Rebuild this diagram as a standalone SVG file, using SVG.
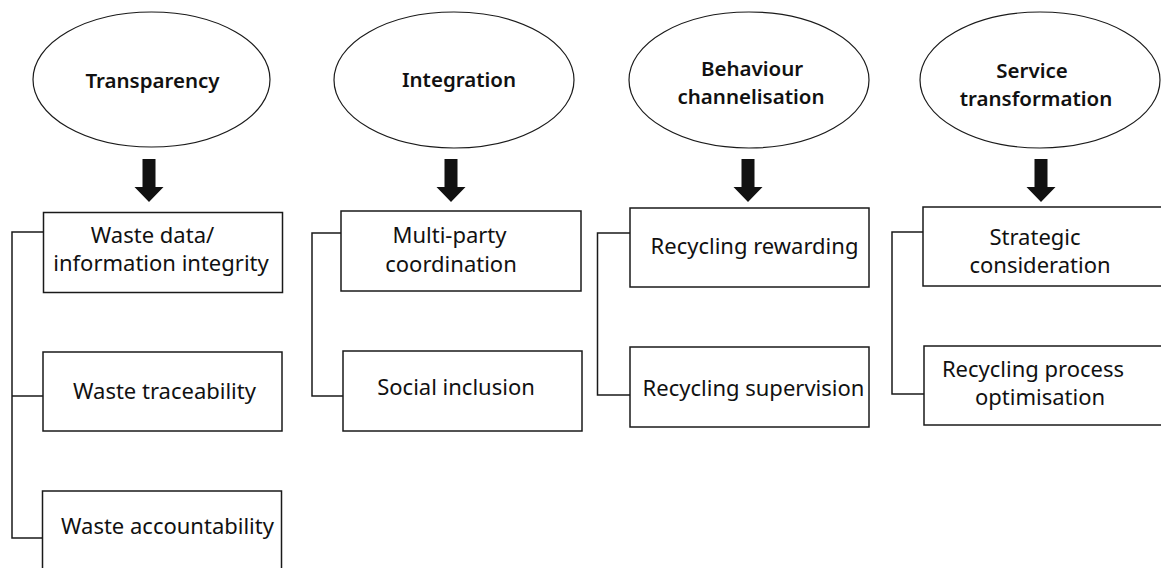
<svg xmlns="http://www.w3.org/2000/svg" width="1161" height="568" viewBox="0 0 1161 568">
<defs>
<style>
.ell{fill:#fff;stroke:#1a1a1a;stroke-width:1.2}
.box{fill:#fff;stroke:#1a1a1a;stroke-width:1.5}
.con{fill:none;stroke:#1a1a1a;stroke-width:1.5}
.arr{fill:#111}
.h{font-family:"Noto Sans","Open Sans",sans-serif;font-size:20.5px;font-weight:600;fill:#111;text-anchor:middle}
.t{font-family:"Noto Sans","Open Sans",sans-serif;font-size:22px;fill:#111;text-anchor:middle}
</style>
<path id="arrow" d="M-6.5,0 H6.5 V28 H14.5 L0,43 L-14.5,28 H-6.5 Z"/>
</defs>
<rect width="1161" height="568" fill="#fff"/>
<g id="connectors">
<path class="con" d="M43.5,232 H12 V538 H42.5 M12,396 H43"/>
<path class="con" d="M341,233 H312 V396 H343"/>
<path class="con" d="M630,233 H597.5 V395 H630"/>
<path class="con" d="M923,232 H892 V394 H924"/>
<use href="#arrow" class="arr" x="149" y="159"/>
<use href="#arrow" class="arr" x="451" y="159"/>
<use href="#arrow" class="arr" x="748" y="159"/>
<use href="#arrow" class="arr" x="1041" y="159"/>
</g>
<g id="transparency">
<ellipse class="ell" cx="151.5" cy="79.5" rx="118.5" ry="67.5"/>
<text class="h" x="152.5" y="88">Transparency</text>
</g>
<g id="integration">
<ellipse class="ell" cx="454" cy="80" rx="120" ry="68"/>
<text class="h" x="459" y="87">Integration</text>
</g>
<g id="behaviour">
<ellipse class="ell" cx="749" cy="80" rx="120" ry="68"/>
<text class="h" x="752" y="75.5">Behaviour</text>
<text class="h" x="751" y="103.5">channelisation</text>
</g>
<g id="service">
<ellipse class="ell" cx="1040" cy="80" rx="120" ry="68"/>
<text class="h" x="1032" y="77.5">Service</text>
<text class="h" x="1036" y="105.5">transformation</text>
</g>
<g id="waste-data">
<rect class="box" x="43.5" y="212.5" width="239" height="80"/>
<text class="t" x="152.5" y="243">Waste data/</text>
<text class="t" x="161" y="271">information integrity</text>
</g>
<g id="waste-traceability">
<rect class="box" x="43" y="352" width="239" height="79"/>
<text class="t" x="164.5" y="399">Waste traceability</text>
</g>
<g id="waste-accountability">
<rect class="box" x="42.5" y="491" width="239" height="90"/>
<text class="t" x="167.5" y="534">Waste accountability</text>
</g>
<g id="multi-party">
<rect class="box" x="341" y="211" width="240" height="80"/>
<text class="t" x="449.5" y="243">Multi-party</text>
<text class="t" x="451" y="272">coordination</text>
</g>
<g id="social-inclusion">
<rect class="box" x="343" y="351" width="239" height="80"/>
<text class="t" x="456" y="395">Social inclusion</text>
</g>
<g id="recycling-rewarding">
<rect class="box" x="630" y="208" width="239" height="79"/>
<text class="t" x="754.5" y="254">Recycling rewarding</text>
</g>
<g id="recycling-supervision">
<rect class="box" x="630" y="347" width="239" height="80"/>
<text class="t" x="753.5" y="396">Recycling supervision</text>
</g>
<g id="strategic">
<rect class="box" x="923" y="207" width="242" height="79"/>
<text class="t" x="1035" y="245">Strategic</text>
<text class="t" x="1040" y="273">consideration</text>
</g>
<g id="process-optimisation">
<rect class="box" x="924" y="346" width="242" height="79"/>
<text class="t" x="1033" y="377">Recycling process</text>
<text class="t" x="1040" y="405">optimisation</text>
</g>
</svg>
